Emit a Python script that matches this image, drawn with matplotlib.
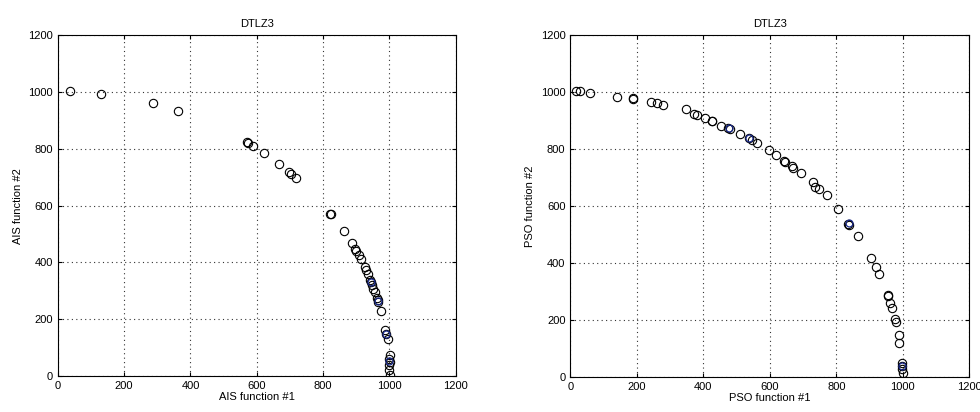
import matplotlib.pyplot as plt

plt.rcParams['font.family'] = ['Liberation Sans', 'DejaVu Sans']

# AIS front (black circles), plus overlapping blue points
ais_x = [38, 131, 287, 363, 570, 575, 590, 623, 667, 696, 703, 719, 825, 822,
         864, 886, 897, 900, 907, 914, 925, 929, 934, 942, 945, 947, 952, 957,
         962, 967, 965, 976, 988, 991, 995, 1001, 1000, 1001, 1000, 998, 1001]
ais_y = [1003, 991, 960, 933, 825, 821, 809, 785, 746, 719, 710, 698, 569, 571,
         509, 469, 446, 441, 426, 412, 385, 375, 361, 340, 332, 320, 307, 296,
         276, 262, 267, 230, 162, 150, 129, 76, 62, 50, 39, 21, 4]
ais_bx = [945, 965, 990, 1000]
ais_by = [332, 264, 150, 55]

# PSO front
pso_x = [18, 28, 58, 141, 187, 188, 244, 261, 279, 349, 373, 381, 404, 426, 427,
         454, 474, 481, 511, 536, 546, 561, 597, 618, 643, 645, 666, 671, 694,
         729, 737, 749, 772, 805, 835, 839, 864, 905, 919, 930, 955, 957, 962,
         967, 977, 980, 990, 990, 998, 999, 999, 1000]
pso_y = [1005, 1005, 998, 984, 978, 976, 964, 960, 953, 940, 923, 920, 908, 900,
         899, 882, 873, 871, 852, 838, 832, 821, 796, 780, 759, 756, 741, 733,
         715, 683, 668, 661, 637, 588, 538, 535, 494, 416, 387, 363, 289, 284,
         258, 243, 204, 194, 147, 120, 50, 39, 27, 15]
pso_bx = [476, 538, 837, 999]
pso_by = [872, 837, 540, 39]

ticks = [0, 200, 400, 600, 800, 1000, 1200]

fig = plt.figure(figsize=(9.8, 4.12), dpi=100)
ax1 = fig.add_axes([0.059, 0.087, 0.406, 0.828])
ax2 = fig.add_axes([0.582, 0.085, 0.407, 0.830])

panels = [(ax1, ais_x, ais_y, ais_bx, ais_by, 'AIS'),
          (ax2, pso_x, pso_y, pso_bx, pso_by, 'PSO')]

for ax, x, y, bx, by, name in panels:
    ax.plot(x, y, 'o', mfc='none', mec='black', ms=6, mew=0.8)
    ax.plot(bx, by, 'o', mfc='none', mec='#1a2a8a', ms=5, mew=0.9)
    ax.set_xlim(0, 1200)
    ax.set_ylim(0, 1200)
    ax.set_xticks(ticks)
    ax.set_yticks(ticks)
    ax.grid(True, color='#333333', linestyle=(0, (1, 3)), linewidth=0.8)
    ax.tick_params(direction='in', length=3, labelsize=8, top=True, right=True)
    ax.set_title('DTLZ3', fontsize=8)
    ax.set_xlabel(name + ' function #1', fontsize=8, labelpad=1)
    ax.set_ylabel(name + ' function #2', fontsize=8)

fig.savefig('out.png', dpi=100)
